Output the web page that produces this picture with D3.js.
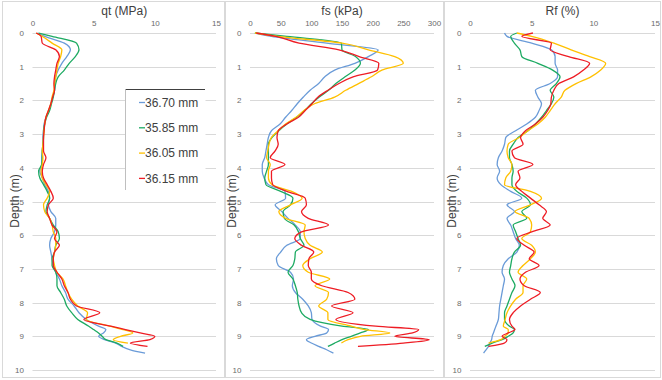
<!DOCTYPE html>
<html>
<head>
<meta charset="utf-8">
<script src="https://cdn.jsdelivr.net/npm/d3@7"></script>
<style>
  body { margin: 0; background: #fff; }
  svg text { font-family: "Liberation Sans", Arial, sans-serif; }
</style>
</head>
<body>
<svg id="chart" width="662" height="380"></svg>
<script>
// depth grid (m) shared by every series, null = series ended
const depth = [0, 0.1, 0.3, 0.5, 0.7, 0.9, 1.1, 1.3, 1.5, 1.7, 1.9, 2.1, 2.3, 2.5, 2.7, 2.9,
  3.1, 3.3, 3.5, 3.7, 3.9, 4.1, 4.3, 4.5, 4.7, 4.9, 5.1, 5.3, 5.5, 5.7, 5.9, 6.1, 6.3, 6.5,
  6.7, 6.9, 7.1, 7.3, 7.5, 7.7, 7.9, 8.1, 8.3, 8.5, 8.7, 8.8, 8.9, 9.0, 9.1, 9.2, 9.3, 9.4, 9.5];

const seriesNames = ["36.70 mm", "35.85 mm", "36.05 mm", "36.15 mm"];
const seriesColors = ["#6a9bd8", "#1daa62", "#ffc000", "#ee1c24"];
const depthTicks = [0, 1, 2, 3, 4, 5, 6, 7, 8, 9, 10];

// qt (MPa)
const qtBlue = [0.4, 1.0, 2.6, 3.1, 2.8, 2.4, 2.1, 1.9, 1.85, 1.8, 1.65, 1.5, 1.35, 1.1, 0.95, 0.9,
  0.85, 0.85, 0.8, 0.75, 0.75, 0.6, 0.8, 1.0, 1.3, 1.4, 1.3, 1.5, 1.9, 1.9, 1.8, 1.5, 1.4, 1.5,
  1.6, 1.7, 1.9, 2.2, 2.4, 2.7, 2.9, 3.4, 3.8, 4.4, 5.4, 6.0, 5.8, 5.4, 5.9, 6.8, 7.3, 8.0, 9.2];
const qtGreen = [0.5, 1.6, 3.6, 3.8, 3.5, 3.0, 2.6, 2.1, 1.9, 1.8, 1.7, 1.55, 1.4, 1.15, 1.0, 0.9,
  0.9, 0.85, 0.8, 0.8, 0.75, 0.5, 0.6, 0.9, 1.2, 1.4, 1.2, 1.1, 1.4, 1.7, 2.1, 2.2, 1.9, 1.8,
  1.6, 1.6, 1.9, 2.0, 2.0, 2.3, 2.6, 2.8, 3.2, 3.7, 4.6, 5.0, 5.4, 5.7, 6.0, 6.9, 7.4, null, null];
const qtYellow = [0.3, 0.8, 1.6, 2.4, 2.3, 2.1, 2.0, 1.9, 1.8, 1.75, 1.6, 1.5, 1.3, 1.1, 1.0, 0.95,
  0.9, 0.85, 0.8, 0.85, 0.8, 0.7, 0.8, 1.1, 1.4, 1.2, 0.9, 1.0, 1.4, 1.6, 1.7, 1.9, 1.9, 1.8,
  1.7, 1.8, 2.0, 2.5, 2.7, 2.9, 3.2, 3.7, 4.5, 4.4, 6.3, 7.4, 8.2, 7.2, 6.6, 7.8, null, null, null];
const qtRed = [0.3, 0.7, 0.8, 1.9, 2.2, 2.0, 1.9, 1.8, 1.75, 1.8, 1.65, 1.5, 1.3, 1.1, 1.0, 0.95,
  0.9, 0.9, 0.9, 1.1, 0.9, 0.8, 0.9, 1.2, 1.5, 1.7, 1.3, 1.2, 1.4, 1.6, 2.0, 1.8, 2.2, 1.8,
  1.7, 1.7, 2.0, 2.4, 2.6, 2.9, 3.1, 3.6, 5.5, 4.2, 6.4, 7.6, 8.8, 10.0, 9.6, 8.0, 9.4, null, null];

// fs (kPa)
const fsBlue = [8, 35, 125, 209, 193, 171, 138, 122, 112, 98, 87, 77, 68, 58, 49, 35,
  30, 28, 26, 24, 20, 20, 23, 30, 57, 58, 41, 52, 62, 74, 82, 82, 60, 50,
  43, 46, 66, 71, 69, 74, 86, 95, 100, 101, 115, 128, 125, 106, 92, 100, 112, 125, 136];
const fsGreen = [8, 60, 149, 150, 172, 180, 171, 155, 140, 128, 113, 100, 89, 76, 60, 47,
  36, 30, 30, 30, 30, 27, 24, 26, 50, 70, 66, 54, 56, 72, 79, 82, 88, 74,
  73, 70, 62, 70, 74, 77, 78, 80, 84, 98, 150, 193, 180, 165, 150, 138, 127, null, null];
const fsYellow = [8, 45, 150, 193, 236, 250, 215, 198, 177, 156, 138, 105, 88, 75, 58, 46,
  35, 31, 29, 27, 33, 30, 30, 36, 68, 85, 66, 47, 58, 90, 88, 90, 98, 118,
  98, 86, 95, 130, 106, 128, 125, 112, 127, 127, 165, 187, 228, 180, 160, 149, null, null, null];
const fsRed = [10, 42, 80, 145, 178, 210, 208, 168, 145, 127, 111, 101, 90, 79, 60, 46,
  44, 46, 41, 33, 57, 35, 35, 37, 60, 90, 92, 84, 95, 128, 84, 73, 84, 104,
  96, 95, 100, 100, 117, 160, 171, 133, 168, 140, 205, 275, 265, 236, 292, 250, 176, null, null];

// Rf (%)
const rfBlue = [2.8, 3.0, 5.0, 6.6, 6.9, 6.9, 7.1, 7.1, 6.5, 5.3, 5.5, 5.8, 5.6, 5.3, 4.6, 3.7,
  2.9, 2.8, 2.6, 2.3, 2.2, 2.4, 2.2, 2.5, 3.3, 4.2, 3.0, 3.6, 3.0, 3.3, 3.5, 3.7, 4.0, 3.8,
  3.1, 2.7, 2.6, 2.8, 2.7, 2.6, 2.5, 2.4, 2.35, 2.3, 2.1, 2.0, 1.9, 1.8, 1.75, 1.6, 1.5, 1.3, 1.1];
const rfGreen = [3.8, 3.3, 3.6, 4.05, 4.2, 5.5, 6.7, 7.3, 7.0, 6.5, 6.8, 6.6, 6.2, 5.8, 5.3, 4.7,
  3.9, 3.5, 3.2, 3.2, 3.4, 3.5, 3.4, 3.4, 3.8, 4.6, 4.9, 4.2, 4.6, 3.5, 3.7, 3.9, 4.1, 3.6,
  3.4, 3.3, 3.2, 3.4, 3.65, 3.4, 3.2, 3.0, 2.8, 2.8, 3.2, 3.6, 3.5, 3.1, 2.6, 1.8, 1.2, null, null];
const rfYellow = [3.8, 5.0, 6.8, 8.2, 9.7, 11.0, 10.6, 9.8, 8.6, 7.7, 7.4, 6.9, 6.5, 6.1, 5.5, 4.7,
  4.0, 3.1, 3.0, 3.1, 3.4, 3.3, 2.9, 2.8, 4.9, 5.8, 4.9, 3.65, 4.8, 5.0, 4.9, 4.2, 5.0, 5.3,
  4.9, 4.3, 3.9, 4.6, 4.3, 4.3, 3.7, 3.3, 3.0, 2.85, 2.7, 3.1, 3.1, 2.8, 2.5, 1.5, null, null, null];
const rfRed = [5.1, 4.2, 6.6, 6.5, 8.0, 9.7, 9.2, 8.4, 7.2, 6.8, 6.6, 6.55, 6.3, 5.9, 5.3, 4.5,
  4.1, 4.3, 3.4, 3.6, 5.1, 3.9, 4.05, 3.7, 4.2, 4.9, 5.6, 6.2, 5.9, 6.5, 5.0, 3.8, 4.4, 5.2,
  4.8, 5.6, 4.5, 4.05, 4.4, 5.7, 4.9, 4.1, 3.5, 3.2, 3.4, 3.65, 3.1, 2.6, 3.0, 2.8, 1.5, null, null];

const panels = [
  { title: "qt (MPa)", max: 15, ticks: [0, 5, 10, 15], data: [qtBlue, qtGreen, qtYellow, qtRed],
    left: 32.5, right: 216, frame: [2, 224] },
  { title: "fs (kPa)", max: 300, ticks: [0, 50, 100, 150, 200, 250, 300], data: [fsBlue, fsGreen, fsYellow, fsRed],
    left: 250, right: 434, frame: [225, 443] },
  { title: "Rf (%)", max: 15, ticks: [0, 5, 10, 15], data: [rfBlue, rfGreen, rfYellow, rfRed],
    left: 470, right: 655, frame: [444, 660] }
];

const svg = d3.select("#chart");
const y = d3.scaleLinear().domain([0, 10]).range([33, 370]);

panels.forEach((p) => {
  const x = d3.scaleLinear().domain([0, p.max]).range([p.left, p.right]);
  const g = svg.append("g");

  g.append("rect")
    .attr("x", p.frame[0] + 0.5).attr("y", 1.5)
    .attr("width", p.frame[1] - p.frame[0]).attr("height", 376)
    .attr("fill", "none").attr("stroke", "#d9d9d9");

  // horizontal gridlines
  g.selectAll(".grid")
    .data(depthTicks)
    .join("line")
    .attr("x1", p.left).attr("x2", p.right)
    .attr("y1", (d) => Math.round(y(d)) + 0.5).attr("y2", (d) => Math.round(y(d)) + 0.5)
    .attr("stroke", "#d9d9d9");

  const xAxis = g.append("g")
    .attr("transform", "translate(0,25.5)")
    .call(d3.axisTop(x).tickValues(p.ticks).tickSize(0).tickPadding(0));
  xAxis.select(".domain").remove();
  xAxis.selectAll("text").attr("font-size", 8).attr("fill", "#6b6b6b")
    .style("font-family", "Liberation Sans, Arial, sans-serif");

  const yAxis = g.append("g")
    .attr("transform", "translate(" + p.left + ",0)")
    .call(d3.axisLeft(y).tickValues(depthTicks).tickSize(0).tickPadding(8.5));
  yAxis.select(".domain").remove();
  yAxis.selectAll("text").attr("font-size", 8).attr("fill", "#6b6b6b")
    .style("font-family", "Liberation Sans, Arial, sans-serif");

  g.append("text")
    .attr("x", (p.left + p.right) / 2).attr("y", 14.5)
    .attr("text-anchor", "middle")
    .attr("font-size", 12).attr("fill", "#404040")
    .text(p.title);

  g.append("text")
    .attr("transform", "translate(" + (p.left - 14) + ",201) rotate(-90)")
    .attr("text-anchor", "middle")
    .attr("font-size", 12).attr("fill", "#404040")
    .text("Depth (m)");

  const line = d3.line()
    .defined((d) => d != null)
    .x((d) => x(d))
    .y((d, i) => y(depth[i]))
    .curve(d3.curveMonotoneY);

  p.data.forEach((vals, k) => {
    g.append("path")
      .attr("d", line(vals))
      .attr("fill", "none")
      .attr("stroke", seriesColors[k])
      .attr("stroke-width", 1.3)
      .attr("stroke-linejoin", "round");
  });
});

// legend in the qt panel
const legend = svg.append("g");
legend.append("rect")
  .attr("x", 125.5).attr("y", 89.5).attr("width", 80).attr("height", 101)
  .attr("fill", "#fff");
legend.append("line")
  .attr("x1", 125.5).attr("x2", 205).attr("y1", 89.5).attr("y2", 89.5)
  .attr("stroke", "#404040");
legend.append("line")
  .attr("x1", 125.5).attr("x2", 125.5).attr("y1", 89.5).attr("y2", 190)
  .attr("stroke", "#bfbfbf");
seriesNames.forEach((name, k) => {
  const yy = 102.5 + k * 25.3;
  legend.append("line")
    .attr("x1", 139).attr("x2", 145).attr("y1", yy).attr("y2", yy)
    .attr("stroke", seriesColors[k]).attr("stroke-width", 1.3);
  legend.append("text")
    .attr("x", 145).attr("y", yy + 4.3)
    .attr("font-size", 12).attr("fill", "#404040")
    .text(name);
});
</script>
</body>
</html>
